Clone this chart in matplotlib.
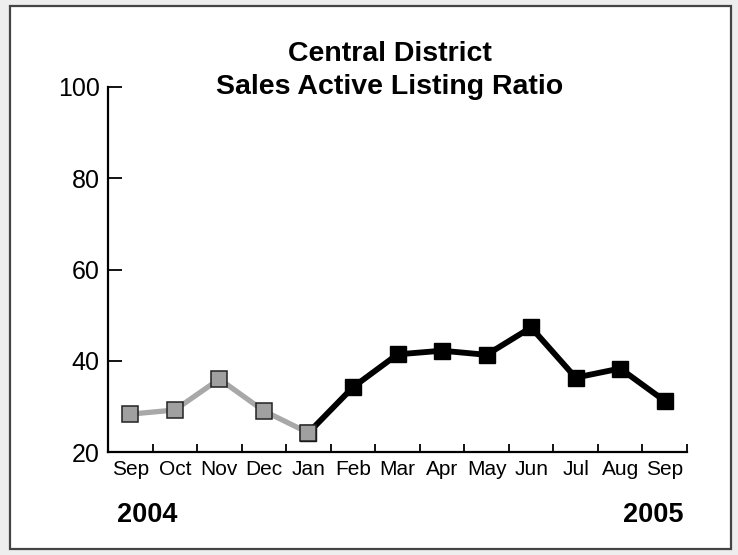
import matplotlib
matplotlib.use('Agg')
from matplotlib import pyplot as plt
from matplotlib.patches import Rectangle
import numpy as np

plt.rcParams['font.family'] = ['Liberation Sans', 'DejaVu Sans']

months = ['Sep', 'Oct', 'Nov', 'Dec', 'Jan', 'Feb', 'Mar', 'Apr', 'May', 'Jun', 'Jul', 'Aug', 'Sep']
ratio = [28.3, 29.2, 36.0, 29.0, 24.2, 34.2, 41.4, 42.2, 41.3, 47.3, 36.3, 38.3, 31.2]
split = 4  # last month of the gray (2004) part
y_ticks = [20, 40, 60, 80, 100]
years = ['2004', '2005']
title_lines = ['Central District', 'Sales Active Listing Ratio']


def main() -> None:
    fig = plt.figure(figsize=(7.38, 5.55), dpi=100)
    fig.patch.set_facecolor('#eeeeee')
    fig.patches.append(Rectangle((10 / 738, 6 / 555), 721 / 738, 543 / 555,
                                 transform=fig.transFigure, facecolor='white',
                                 edgecolor='#444444', linewidth=1.6, zorder=-5))

    ax = fig.add_axes([108 / 738, 1 - 452 / 555, 579 / 738, 365 / 555])
    ax.set_facecolor('none')
    x = np.arange(len(months))

    ax.plot(x[split:], ratio[split:], color='black', linewidth=4.2,
            marker='s', markersize=12.2, markerfacecolor='black',
            markeredgecolor='black', zorder=3, clip_on=False)
    ax.plot(x[:split + 1], ratio[:split + 1], color='#a8a8a8', linewidth=3.8,
            marker='s', markersize=11, markerfacecolor='#a0a0a0',
            markeredgecolor='#222222', markeredgewidth=1.1, zorder=4,
            clip_on=False)

    ax.set_xlim(-0.5, len(months) - 0.5)
    ax.set_ylim(20, 100)

    for side in ['top', 'right']:
        ax.spines[side].set_visible(False)
    ax.spines['left'].set_linewidth(1.6)
    ax.spines['bottom'].set_linewidth(1.6)

    ax.set_yticks(y_ticks)
    ax.set_yticklabels([str(v) for v in y_ticks], fontsize=18)
    ax.tick_params(axis='y', direction='in', length=10, width=1.3, pad=6)

    ax.set_xticks(x)
    ax.set_xticklabels(months, fontsize=15)
    ax.set_xticks(np.arange(len(months) + 1) - 0.5, minor=True)
    ax.tick_params(axis='x', which='major', length=0, pad=6)
    ax.tick_params(axis='x', which='minor', direction='in', length=6, width=1.3)

    for line, base in zip(title_lines, [61, 94]):
        fig.text(390 / 738, 1 - base / 555, line, ha='center', va='baseline',
                 fontsize=20.5, fontweight='bold')
    fig.text(117 / 738, 1 - 515 / 555, years[0], ha='left', va='center',
             fontsize=19.5, fontweight='bold')
    fig.text(684 / 738, 1 - 515 / 555, years[1], ha='right', va='center',
             fontsize=19.5, fontweight='bold')

    fig.savefig('out.png', dpi=100, facecolor=fig.get_facecolor())


if __name__ == '__main__':
    main()
